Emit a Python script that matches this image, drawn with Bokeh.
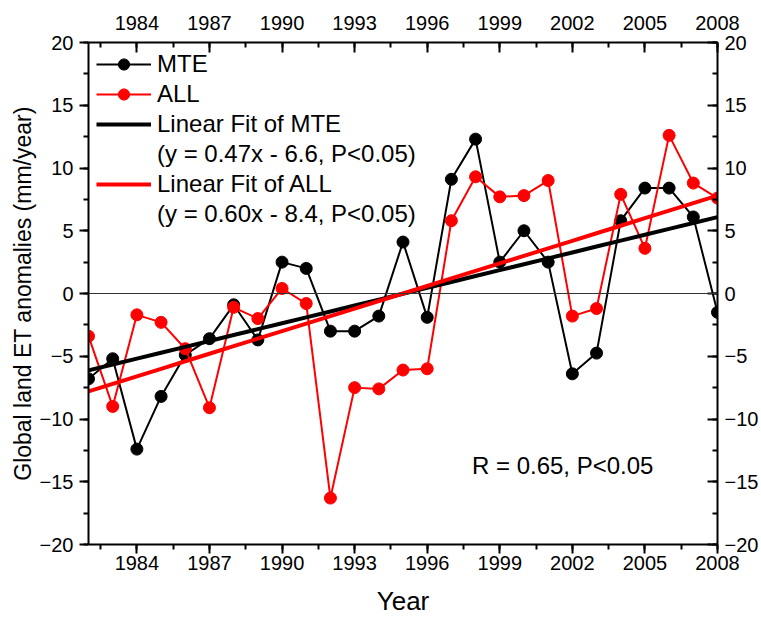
import numpy as np
from bokeh.plotting import figure
from bokeh.models import (Range1d, LinearAxis, FixedTicker, Span, Label, Legend,
                          LegendItem, ColumnDataSource)
from bokeh.embed import file_html
from bokeh.resources import INLINE

years = list(range(1982, 2009))
mte = [-6.8, -5.2, -12.4, -8.2, -4.9, -3.6, -0.9, -3.7, 2.5, 2.0, -3.0, -3.0, -1.8,
       4.1, -1.9, 9.1, 12.3, 2.5, 5.0, 2.5, -6.4, -4.75, 5.8, 8.4, 8.4, 6.1, -1.5]
all_ = [-3.4, -9.0, -1.7, -2.3, -4.4, -9.1, -1.1, -2.0, 0.4, -0.8, -16.3, -7.5, -7.6,
        -6.1, -6.0, 5.8, 9.3, 7.7, 7.8, 9.0, -1.8, -1.2, 7.9, 3.6, 12.6, 8.8, 7.6]
fit_slope = {"MTE": 0.47, "ALL": 0.60}
fit_intercept = {"MTE": -6.6, "ALL": -8.4}
x_ticks = [1984, 1987, 1990, 1993, 1996, 1999, 2002, 2005, 2008]
y_ticks = [-20, -15, -10, -5, 0, 5, 10, 15, 20]
x_minor = list(np.arange(1982.5, 2008.01, 1.5))
y_minor = list(np.arange(-20, 20.01, 2.5))

FONT = "Liberation Sans"

p = figure(width=761, height=618, output_backend="svg", toolbar_location=None,
           x_range=Range1d(1982, 2008), y_range=Range1d(-20, 20),
           x_axis_location=None, y_axis_location=None,
           min_border_left=88, min_border_right=41, min_border_top=42, min_border_bottom=72)
p.xgrid.visible = False
p.ygrid.visible = False
p.outline_line_color = None
p.background_fill_color = "white"
p.border_fill_color = "white"

xt = FixedTicker(ticks=x_ticks, minor_ticks=x_minor)
yt = FixedTicker(ticks=y_ticks, minor_ticks=y_minor)


def style(ax, inward):
    ax.axis_line_width = 2
    ax.axis_line_color = "black"
    ax.major_tick_line_width = 2
    ax.minor_tick_line_width = 2
    ax.major_tick_line_color = "black"
    ax.minor_tick_line_color = "black"
    if inward:
        ax.major_tick_in, ax.major_tick_out = 10, 0
        ax.minor_tick_in, ax.minor_tick_out = 5, 0
    else:
        ax.major_tick_in, ax.major_tick_out = 0, 9
        ax.minor_tick_in, ax.minor_tick_out = 0, 5
    ax.major_label_text_font = FONT
    ax.major_label_text_font_size = "20px"
    ax.major_label_text_color = "black"
    ax.axis_label_text_font = FONT
    ax.axis_label_text_font_style = "normal"
    ax.axis_label_text_color = "black"


bottom = LinearAxis(ticker=xt, axis_label="Year")
style(bottom, False)
bottom.major_label_standoff = 2
bottom.axis_label_standoff = 13
bottom.axis_label_text_font_size = "26px"
p.add_layout(bottom, "below")

top = LinearAxis(ticker=xt)
style(top, True)
top.major_label_standoff = 13
p.add_layout(top, "above")

left = LinearAxis(ticker=yt, axis_label="Global land ET anomalies (mm/year)")
style(left, False)
left.major_label_standoff = 6
left.axis_label_standoff = 1
left.axis_label_text_font_size = "23px"
p.add_layout(left, "left")

right = LinearAxis(ticker=yt)
style(right, True)
right.major_label_standoff = 7
p.add_layout(right, "right")

p.add_layout(Span(location=0, dimension="width", line_color="#333333", line_width=1))

src = ColumnDataSource(dict(year=years, mte=mte, all=all_))
l1 = p.line("year", "mte", source=src, line_color="black", line_width=2)
c1 = p.scatter("year", "mte", source=src, size=12, fill_color="black", line_color="black")
l2 = p.line("year", "all", source=src, line_color="#ff0000", line_width=2)
c2 = p.scatter("year", "all", source=src, size=12, fill_color="#ff0000", line_color="#ff0000")

xi = np.array(years) - years[0] + 1
fit_m = [fit_slope["MTE"] * v + fit_intercept["MTE"] for v in xi]
fit_a = [fit_slope["ALL"] * v + fit_intercept["ALL"] for v in xi]
f1 = p.line(years, fit_m, line_color="black", line_width=4)
f2 = p.line(years, fit_a, line_color="#ff0000", line_width=4)

e1 = p.line([], [], line_alpha=0)
e2 = p.line([], [], line_alpha=0)

legend = Legend(items=[
    LegendItem(label="MTE", renderers=[l1, c1]),
    LegendItem(label="ALL", renderers=[l2, c2]),
    LegendItem(label="Linear Fit of MTE", renderers=[f1]),
    LegendItem(label="(y = 0.47x - 6.6, P<0.05)", renderers=[e1]),
    LegendItem(label="Linear Fit of ALL", renderers=[f2]),
    LegendItem(label="(y = 0.60x - 8.4, P<0.05)", renderers=[e2]),
], location="top_left")
legend.margin = 8
legend.padding = 0
legend.spacing = 2
legend.glyph_width = 55
legend.glyph_height = 28
legend.label_height = 28
legend.label_standoff = 6
legend.label_text_font = FONT
legend.label_text_font_size = "24px"
legend.label_text_color = "black"
legend.background_fill_alpha = 0
legend.border_line_color = None
legend.inactive_fill_alpha = 0
p.add_layout(legend)

p.add_layout(Label(x=1997.85, y=-13.7, text="R = 0.65, P<0.05", text_font=FONT,
                   text_font_size="24px", text_baseline="middle", text_color="black"))

open("out.html", "w").write(file_html(p, INLINE))
